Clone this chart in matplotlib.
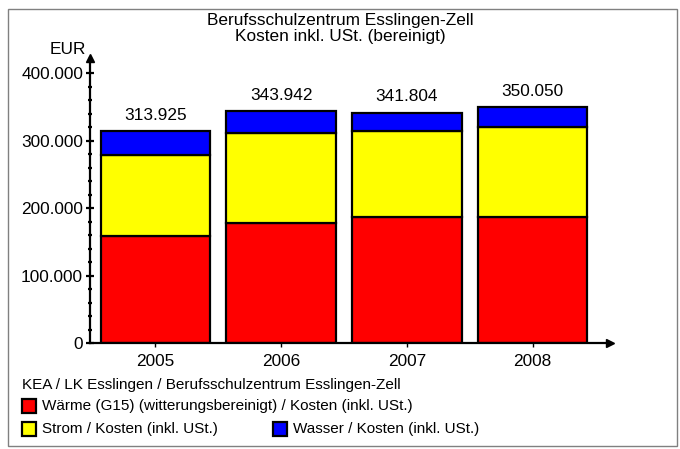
import matplotlib.pyplot as plt
from matplotlib.patches import Rectangle
from matplotlib.ticker import FuncFormatter, MultipleLocator

plt.rcParams['font.family'] = ['Liberation Sans', 'DejaVu Sans']

years = ['2005', '2006', '2007', '2008']
totals = [313925, 343942, 341804, 350050]
waerme = [159000, 178700, 187600, 187600]
strom = [120000, 132400, 126400, 132400]
wasser = [t - w - s for t, w, s in zip(totals, waerme, strom)]

fs = 12.4
fig = plt.figure(figsize=(6.8, 4.49), dpi=100)
ax = fig.add_axes([90 / 680, 1 - 343.3 / 449, 520 / 680, (343.3 - 58) / 449])

x = range(len(years))
kw = dict(width=0.87, edgecolor='black', linewidth=1.6)
ax.bar(x, waerme, color='#ff0000', **kw)
ax.bar(x, strom, bottom=waerme, color='#ffff00', **kw)
bot = [w + s for w, s in zip(waerme, strom)]
ax.bar(x, wasser, bottom=bot, color='#0000ff', **kw)

for i, t in enumerate(totals):
    ax.annotate(f'{t:,}'.replace(',', '.'), (i, t), xytext=(0, 6),
                textcoords='offset points', ha='center', va='bottom', fontsize=fs)

ax.set_xlim(-0.52, 3.616)
ax.set_ylim(0, 422700)
for s in ('top', 'right'):
    ax.spines[s].set_visible(False)
for s in ('left', 'bottom'):
    ax.spines[s].set_linewidth(1.6)
ax.plot(1, 0, '>k', ms=6, transform=ax.transAxes, clip_on=False)
ax.plot(0, 1, '^k', ms=6, transform=ax.transAxes, clip_on=False)

ax.set_xticks(list(x))
ax.set_xticklabels(years, fontsize=fs)
ax.set_yticks([0, 100000, 200000, 300000, 400000])
ax.yaxis.set_major_formatter(FuncFormatter(lambda v, p: f'{int(v):,}'.replace(',', '.')))
ax.yaxis.set_minor_locator(MultipleLocator(20000))
ax.tick_params(axis='y', which='major', direction='inout', length=6, width=1.6, labelsize=fs, pad=2)
ax.tick_params(axis='y', which='minor', direction='inout', length=3, width=1.6)
ax.tick_params(axis='x', direction='out', length=3, width=1, pad=5)
fig.text(86 / 680, 1 - 57 / 449, 'EUR', ha='right', va='bottom', fontsize=fs)

fig.text(0.5, 1 - 20 / 449, 'Berufsschulzentrum Esslingen-Zell', ha='center', va='center', fontsize=fs)
fig.text(0.5, 1 - 36.5 / 449, 'Kosten inkl. USt. (bereinigt)', ha='center', va='center', fontsize=fs)

# legend block
fig.text(22 / 680, 1 - 385 / 449, 'KEA / LK Esslingen / Berufsschulzentrum Esslingen-Zell',
         ha='left', va='center', fontsize=11)
entries = [('#ff0000', 'Wärme (G15) (witterungsbereinigt) / Kosten (inkl. USt.)', 22, 406),
           ('#ffff00', 'Strom / Kosten (inkl. USt.)', 22, 429),
           ('#0000ff', 'Wasser / Kosten (inkl. USt.)', 273, 429)]
for col, lab, px, py in entries:
    fig.add_artist(Rectangle((px / 680, 1 - (py + 7) / 449), 14 / 680, 14 / 449,
                             facecolor=col, edgecolor='black', linewidth=1.6,
                             transform=fig.transFigure))
    fig.text((px + 20) / 680, 1 - py / 449, lab, ha='left', va='center', fontsize=11)

fig.add_artist(Rectangle((8 / 680, 1 - 446 / 449), 669 / 680, 437 / 449, fill=False,
                         edgecolor='#808080', linewidth=1, transform=fig.transFigure))

fig.savefig('out.png', dpi=100)
